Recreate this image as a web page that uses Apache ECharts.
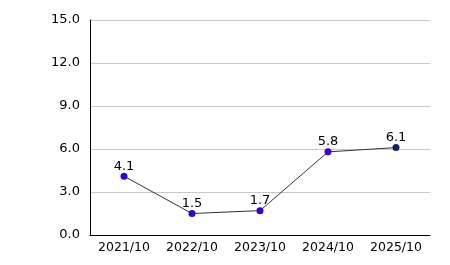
<!DOCTYPE html>
<html><head><meta charset="utf-8">
<script src="https://cdn.jsdelivr.net/npm/echarts@6/dist/echarts.min.js"></script>
<style>html,body{margin:0;padding:0;background:#fff}#c{width:450px;height:265px}</style>
</head><body><div id="c"></div>
<script>
const categories = ['2021/10','2022/10','2023/10','2024/10','2025/10'];
const values = [4.1, 1.5, 1.7, 5.8, 6.1];
const pointColors = ['#3300dd','#3300dd','#3300dd','#3300dd','#102060'];
const chart = echarts.init(document.getElementById('c'), null, {renderer:'canvas'});
const font = 'DejaVu Sans';
chart.setOption({
  animation:false,
  grid:{left:90,right:20,top:20,bottom:30,containLabel:false},
  xAxis:{type:'category',data:categories,boundaryGap:true,
    axisLine:{lineStyle:{color:'#000',width:1}},
    axisTick:{alignWithLabel:true,length:5,lineStyle:{color:'#000'}},
    axisLabel:{color:'#000',fontFamily:font,fontSize:12.5,margin:6,interval:0,hideOverlap:false},
    splitLine:{show:false}},
  yAxis:{type:'value',min:0,max:15,interval:3,
    axisLine:{show:true,lineStyle:{color:'#000',width:1}},
    axisTick:{show:false},
    axisLabel:{color:'#000',fontFamily:font,fontSize:13,margin:10,formatter:v=>v.toFixed(1)},
    splitLine:{lineStyle:{color:'#c8c8c8',width:1}}},
  series:[{type:'line',data:values.map((v,i)=>({value:v,itemStyle:{color:pointColors[i]}})),
    symbol:'circle',symbolSize:7,
    lineStyle:{color:'#333',width:1},
    label:{show:true,position:'top',distance:0,color:'#000',fontFamily:font,fontSize:13,formatter:p=>p.value.toFixed(1)}}]
});
</script></body></html>
